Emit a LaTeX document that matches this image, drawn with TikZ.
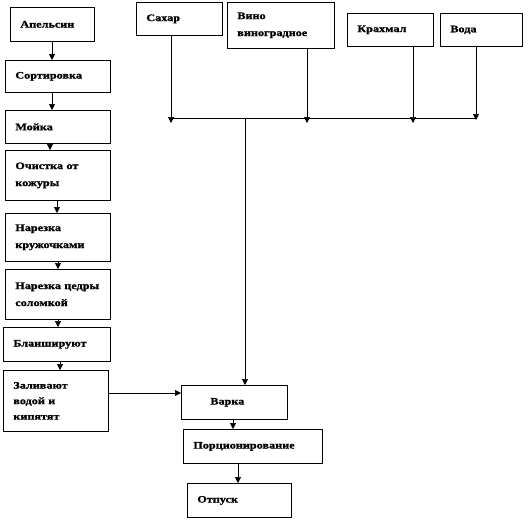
\documentclass[tikz,border=0pt]{standalone}
\usepackage{fontspec}
\setmainfont{Liberation Serif}
\newfontfamily\rfont[FakeStretch=1.22,FakeBold=1.2]{Liberation Serif}
\usetikzlibrary{arrows.meta,calc}
\tikzset{
  box/.style={draw, line width=0.7pt, anchor=north west, inner xsep=10pt, inner ysep=1pt,
    align=left, font=\rfont\bfseries\fontsize{10}{17}\selectfont},
  arr/.style={line width=0.7pt, -{Triangle[width=6pt,length=6pt]}},
  ln/.style={line width=0.7pt}
}
\begin{document}
\begin{tikzpicture}[x=1pt,y=-1pt]
\useasboundingbox (0,0) rectangle (528,520);
% left column
\node[box, minimum width=84pt, text width=64pt, minimum height=34pt] (a1) at (10,7) {Апельсин};
\node[box, minimum width=105pt, text width=85pt, minimum height=32pt] (a2) at (5,60) {Сортировка};
\node[box, minimum width=105pt, text width=85pt, minimum height=33pt] (a3) at (5,110) {Мойка};
\node[box, minimum width=105pt, text width=85pt, minimum height=50pt] (a4) at (5,150) {Очистка от\\кожуры};
\node[box, minimum width=105pt, text width=85pt, minimum height=48pt] (a5) at (5,213) {Нарезка\\кружочками};
\node[box, minimum width=105pt, text width=85pt, minimum height=50pt] (a6) at (5,269) {Нарезка цедры\\соломкой};
\node[box, minimum width=107pt, text width=87pt, minimum height=34pt] (a7) at (3,327) {Бланшируют};
\node[box, minimum width=105pt, text width=85pt, minimum height=61pt, font=\rfont\bfseries\fontsize{10}{15.5}\selectfont] (a8) at (3,370) {Заливают\\водой и\\кипятят};
% top row
\node[box, minimum width=86pt, text width=66pt, minimum height=33pt] (s) at (136,2) {Сахар};
\node[box, minimum width=107pt, text width=87pt, minimum height=46pt] (v) at (227,2) {Вино\\виноградное};
\node[box, minimum width=86pt, text width=66pt, minimum height=33pt] (k) at (347,13) {Крахмал};
\node[box, minimum width=82pt, text width=62pt, minimum height=33pt] (w) at (440,13) {Вода};
% bottom
\node[box, minimum width=106pt, text width=86pt, minimum height=34pt] (b1) at (181,385) {\hspace*{19pt}Варка};
\node[box, minimum width=139pt, text width=119pt, minimum height=34pt] (b2) at (183,429) {Порционирование};
\node[box, minimum width=104pt, text width=84pt, minimum height=34pt] (b3) at (187,483) {Отпуск};
% left chain
\draw[arr] ([xshift=42pt]a1.south west) -- ([xshift=47pt]a2.north west);
\draw[arr] ([xshift=47pt]a2.south west) -- ([xshift=47pt]a3.north west);
\draw[arr] ([xshift=45pt]a3.south west) -- ([xshift=45pt]a4.north west);
\draw[arr] ([xshift=52pt]a4.south west) -- ([xshift=52pt]a5.north west);
\draw[arr] ([xshift=53pt]a5.south west) -- ([xshift=53pt]a6.north west);
\draw[arr] ([xshift=53pt]a6.south west) -- ([xshift=55pt]a7.north west);
\draw[arr] ([xshift=57pt]a7.south west) -- ([xshift=57pt]a8.north west);
\draw[arr] ([yshift=-23pt]a8.north east) -- ([yshift=-8pt]b1.north west);
% top collector
\coordinate (j1) at (171,118);
\coordinate (j2) at (307,118);
\coordinate (j3) at (413,118);
\coordinate (j4) at (476,118);
\coordinate (jm) at (245,118);
\draw[ln] (j1) -- (j4);
\draw[arr] ([xshift=35pt]s.south west) -- ($(j1)+(0,5)$);
\draw[arr] ([xshift=80pt]v.south west) -- ($(j2)+(0,5)$);
\draw[arr] ([xshift=66pt]k.south west) -- ($(j3)+(0,5)$);
\draw[arr] ([xshift=36pt]w.south west) -- ($(j4)+(0,2)$);
\draw[arr] (jm) -- (jm |- b1.north);
\draw[arr] ([xshift=52pt]b1.south west) -- ([xshift=50pt]b2.north west);
\draw[arr] ([xshift=55pt]b2.south west) -- ([xshift=51pt]b3.north west);
\end{tikzpicture}
\end{document}
